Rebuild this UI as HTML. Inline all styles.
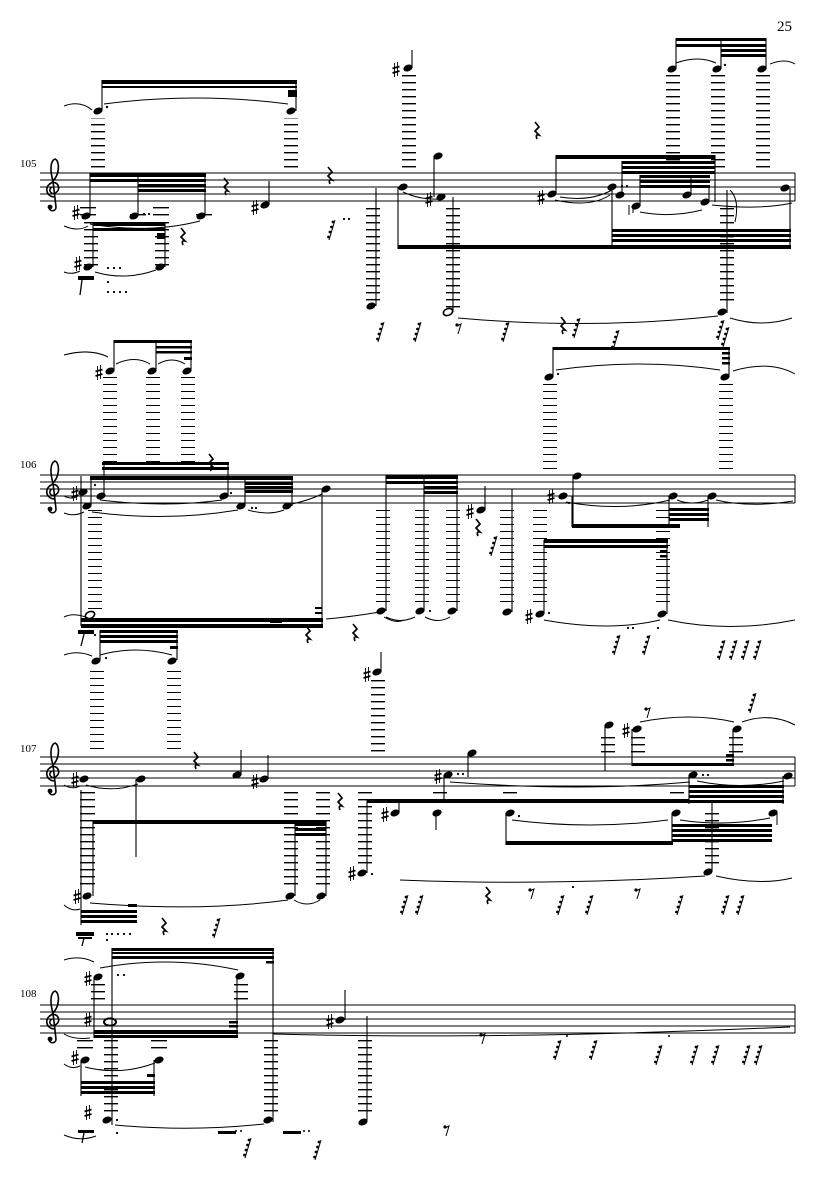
<!DOCTYPE html>
<html><head><meta charset="utf-8">
<style>
html,body{margin:0;padding:0;background:#fff;}
svg{display:block;}
text{font-family:"Liberation Serif",serif;fill:#000;}
</style></head>
<body>
<svg width="835" height="1181" viewBox="0 0 835 1181" xmlns="http://www.w3.org/2000/svg">
<defs>
<pattern id="L1" width="1000" height="7" patternUnits="userSpaceOnUse"><rect x="0" y="5" width="1000" height="1.4" fill="#000"/></pattern>
<pattern id="L2" width="1000" height="7" patternUnits="userSpaceOnUse"><rect x="0" y="6" width="1000" height="1.4" fill="#000"/></pattern>
<pattern id="L3" width="1000" height="7" patternUnits="userSpaceOnUse"><rect x="0" y="1" width="1000" height="1.4" fill="#000"/></pattern>
<pattern id="L4" width="1000" height="7" patternUnits="userSpaceOnUse"><rect x="0" y="4" width="1000" height="1.4" fill="#000"/></pattern>
<symbol id="n" overflow="visible"><ellipse cx="0" cy="0" rx="4.8" ry="3.3" transform="rotate(-22)" fill="#000"/></symbol>
<symbol id="h" overflow="visible"><ellipse cx="0" cy="0" rx="4.8" ry="3.3" transform="rotate(-22)" fill="none" stroke="#000" stroke-width="1.6"/></symbol>
<symbol id="s" overflow="visible"><path d="M-1.5,-7V7M1.5,-8V6" stroke="#000" stroke-width="0.9"/><path d="M-3.5,-1.5L3.5,-3.5M-3.5,3L3.5,1" stroke="#000" stroke-width="1.8"/></symbol>
<symbol id="q" overflow="visible"><path d="M-2,-8L2,-3L-2,1L2,5Q-2,4 0,9" fill="none" stroke="#000" stroke-width="1.7"/></symbol>
<symbol id="r" overflow="visible"><path d="M3,-10L-3,10" stroke="#000" stroke-width="1"/><circle cx="1" cy="-8" r="1.4"/><circle cx="-0.5" cy="-3" r="1.4"/><circle cx="-2" cy="2" r="1.4"/><circle cx="-3.5" cy="7" r="1.4"/></symbol>
<symbol id="e" overflow="visible"><circle cx="-1" cy="-3" r="1.6"/><path d="M-1,-2L3,-4L0,6" fill="none" stroke="#000" stroke-width="1"/></symbol>
<symbol id="c" overflow="visible"><path d="M3,12 C-6,12 -8,2 -1,-2 C6,-5 10,5 3,8 C-2,10 -4,4 0,2 M0,-3 C8,-10 8,-24 3,-26 C-2,-24 -2,-14 1,-4 L4,22 C4,27 -3,27 -3,22" fill="none" stroke="#000" stroke-width="1.6"/><circle cx="-2" cy="22" r="2.4"/></symbol>
</defs>

<text x="777" y="31" font-size="15">25</text>

<!-- ================= SYSTEM 1 ================= -->
<text x="20" y="167" font-size="11">105</text>
<g stroke="#000" stroke-width="1">
<path d="M40,173H795M40,180H795M40,187H795M40,194H795M40,201H795"/>
<path d="M795,173V201"/>
</g>
<use href="#c" x="52" y="185"/>
<!-- top-left group -->
<rect x="91" y="118" width="14" height="50" fill="url(#L1)"/>
<rect x="284" y="118" width="14" height="50" fill="url(#L1)"/>
<use href="#n" x="98" y="111"/><use href="#n" x="291" y="111"/>
<path d="M102,111V80M296,111V80" stroke="#000" stroke-width="1.1"/>
<rect x="102" y="80" width="195" height="4"/><rect x="102" y="86" width="195" height="2"/>
<rect x="288" y="90" width="9" height="7"/>
<path d="M104,104Q195,92 288,104M64,106Q80,100 92,110" fill="none" stroke="#000"/>
<circle cx="107" cy="107" r="1.2"/>
<!-- sharp top note -->
<rect x="402" y="75" width="14" height="93" fill="url(#L1)"/>
<use href="#n" x="408" y="68"/><use href="#s" x="396" y="70"/>
<path d="M412,68V50" stroke="#000" stroke-width="1.1"/>
<!-- top right group -->
<rect x="666" y="75" width="14" height="93" fill="url(#L1)"/>
<rect x="711" y="75" width="14" height="93" fill="url(#L1)"/>
<rect x="756" y="75" width="14" height="93" fill="url(#L1)"/>
<use href="#n" x="672" y="69"/><use href="#n" x="717" y="69"/><use href="#n" x="762" y="69"/>
<path d="M676,69V38M721,69V38M766,69V38" stroke="#000" stroke-width="1.1"/>
<rect x="676" y="38" width="90" height="3"/><rect x="676" y="44" width="90" height="3"/><rect x="721" y="49" width="45" height="3"/><rect x="721" y="54" width="45" height="3"/>
<path d="M676,63Q698,55 716,63M770,64Q785,58 795,64" fill="none" stroke="#000"/>
<circle cx="725" cy="65" r="1.2"/>
<!-- staff left beams -->
<rect x="80" y="207" width="16" height="1.4"/><rect x="80" y="214" width="16" height="1.4"/>
<rect x="130" y="214" width="16" height="1.4"/><rect x="196" y="214" width="16" height="1.4"/><rect x="153" y="207" width="16" height="1.4"/><rect x="153" y="214" width="16" height="1.4"/>
<use href="#n" x="86" y="216"/><use href="#n" x="134" y="216"/><use href="#n" x="201" y="216"/>
<use href="#s" x="76" y="213"/>
<path d="M90,216V173M138,216V173M205,216V173" stroke="#000" stroke-width="1.1"/>
<rect x="90" y="173" width="116" height="4"/><rect x="90" y="179" width="49" height="3"/>
<rect x="138" y="179" width="68" height="3"/><rect x="138" y="184" width="68" height="3"/><rect x="138" y="189" width="68" height="3"/>
<circle cx="144" cy="214" r="1.1"/><circle cx="149" cy="214" r="1.1"/>
<path d="M90,224Q150,234 200,221M64,226Q78,232 88,226" fill="none" stroke="#000"/>
<!-- lower left -->
<rect x="84" y="222" width="14" height="44" fill="url(#L1)"/>
<rect x="155" y="222" width="14" height="44" fill="url(#L1)"/>
<use href="#n" x="88" y="267"/><use href="#n" x="160" y="267"/><use href="#s" x="78" y="264"/>
<path d="M93,267V222M165,267V222" stroke="#000" stroke-width="1.1"/>
<rect x="93" y="222" width="72" height="4"/><rect x="93" y="228" width="72" height="3"/>
<rect x="157" y="233" width="8" height="6"/>
<path d="M95,272Q125,281 156,270M64,272Q72,275 80,271" fill="none" stroke="#000"/>
<rect x="78" y="276" width="16" height="4"/><path d="M82,280L80,295" stroke="#000" stroke-width="1.3"/>
<g fill="#000"><circle cx="108" cy="268" r="1.1"/><circle cx="114" cy="268" r="1.1"/><circle cx="120" cy="268" r="1.1"/><circle cx="108" cy="282" r="1.1"/><circle cx="108" cy="292" r="1.1"/><circle cx="114" cy="292" r="1.1"/><circle cx="120" cy="292" r="1.1"/><circle cx="126" cy="292" r="1.1"/></g>
<use href="#q" x="183" y="236"/><use href="#q" x="226" y="186"/>
<use href="#n" x="265" y="205"/><use href="#s" x="255" y="208"/>
<path d="M269,205V181" stroke="#000" stroke-width="1.1"/>
<use href="#q" x="330" y="175"/><use href="#r" x="332" y="230"/><circle cx="344" cy="219" r="1.1"/><circle cx="349" cy="219" r="1.1"/>
<!-- long down note -->
<rect x="366" y="208" width="14" height="96" fill="url(#L1)"/>
<use href="#n" x="371" y="306"/>
<path d="M376,306V188" stroke="#000" stroke-width="1.1"/>
<!-- middle B note and big beam -->
<use href="#n" x="403" y="187"/>
<path d="M398,187V249" stroke="#000" stroke-width="1.1"/>
<rect x="398" y="245" width="393" height="4"/>
<!-- F# and half note -->
<use href="#n" x="438" y="156"/><use href="#n" x="441" y="197"/><use href="#s" x="429" y="200"/>
<path d="M434,156V197M453,197V312" stroke="#000" stroke-width="1.1"/>
<rect x="446" y="208" width="14" height="100" fill="url(#L1)"/>
<use href="#h" x="448" y="312"/>
<path d="M403,192Q420,200 440,199" fill="none" stroke="#000"/>
<use href="#q" x="537" y="130"/>
<use href="#n" x="552" y="194"/><use href="#s" x="541" y="198"/>
<path d="M556,194V155" stroke="#000" stroke-width="1.1"/>
<rect x="556" y="155" width="159" height="4"/>
<rect x="622" y="161" width="93" height="3"/><rect x="622" y="166" width="93" height="3"/><rect x="622" y="171" width="93" height="3"/>
<rect x="640" y="175" width="70" height="3"/><rect x="640" y="180" width="70" height="3"/><rect x="640" y="185" width="70" height="3"/>
<use href="#n" x="612" y="187"/><use href="#n" x="620" y="195"/><use href="#n" x="636" y="206"/><use href="#n" x="687" y="195"/><use href="#n" x="705" y="202"/>
<path d="M612,187V249M622,195V161M640,206V175M691,195V175M709,202V185M715,202V155" stroke="#000" stroke-width="1.1"/>
<path d="M629,205V215M633,205V213" stroke="#000"/>
<circle cx="622" cy="186" r="1.1"/><circle cx="627" cy="186" r="1.1"/>
<rect x="612" y="229" width="179" height="3"/><rect x="612" y="234" width="179" height="3"/><rect x="612" y="239" width="179" height="3"/>
<path d="M555,200Q590,208 610,195M640,212Q670,218 702,210M560,197Q590,202 612,190" fill="none" stroke="#000"/>
<use href="#n" x="785" y="188"/>
<path d="M790,188V249M727,190V313" stroke="#000" stroke-width="1.1"/>
<path d="M730,190Q740,200 735,222" fill="none" stroke="#000"/>
<rect x="720" y="208" width="14" height="98" fill="url(#L1)"/>
<use href="#n" x="722" y="312"/>
<path d="M458,318Q590,330 718,316M730,318Q762,328 792,318M712,205Q760,210 792,203" fill="none" stroke="#000"/>
<!-- rests row -->
<use href="#r" x="381" y="332"/><use href="#r" x="418" y="332"/><use href="#e" x="458" y="328"/><use href="#r" x="506" y="332"/><use href="#q" x="563" y="325"/><use href="#r" x="577" y="328"/><use href="#r" x="721" y="330"/>

<!-- ================= SYSTEM 2 ================= -->
<text x="20" y="468" font-size="11">106</text>
<g stroke="#000" stroke-width="1">
<path d="M40,475H795M40,482H795M40,489H795M40,496H795M40,503H795"/>
<path d="M795,475V503"/>
</g>
<use href="#c" x="52" y="487"/>
<!-- above group -->
<rect x="103" y="376" width="14" height="92" fill="url(#L2)"/>
<rect x="146" y="376" width="14" height="92" fill="url(#L2)"/>
<rect x="181" y="376" width="14" height="92" fill="url(#L2)"/>
<use href="#n" x="110" y="371"/><use href="#n" x="152" y="371"/><use href="#n" x="187" y="371"/><use href="#s" x="99" y="373"/>
<path d="M114,371V340M156,371V340M191,371V340" stroke="#000" stroke-width="1.1"/>
<rect x="114" y="340" width="78" height="3"/><rect x="156" y="346" width="36" height="2.5"/><rect x="156" y="351" width="36" height="2.5"/><rect x="184" y="357" width="8" height="3"/>
<path d="M64,355Q90,348 108,357M116,364Q135,355 150,364M158,364Q172,356 185,364" fill="none" stroke="#000"/>
<!-- staff content -->
<rect x="102" y="462" width="127" height="3"/><rect x="102" y="467" width="127" height="3"/>
<path d="M104,496V462M228,496V462" stroke="#000" stroke-width="1.1"/>
<rect x="90" y="476" width="203" height="4"/><rect x="245" y="482" width="48" height="3"/><rect x="245" y="486" width="48" height="3"/><rect x="245" y="490" width="48" height="3"/>
<use href="#q" x="211" y="462"/>
<use href="#n" x="83" y="492"/><use href="#n" x="87" y="506"/><use href="#n" x="101" y="496"/><use href="#n" x="224" y="496"/><use href="#n" x="241" y="506"/><use href="#n" x="287" y="506"/><use href="#n" x="326" y="489"/>
<use href="#s" x="75" y="494"/>
<path d="M91,476V506M245,506V476M292,506V476M322,489V626M81,476V626" stroke="#000" stroke-width="1.1"/>
<circle cx="95" cy="485" r="1.1"/><circle cx="231" cy="493" r="1.1"/><circle cx="252" cy="508" r="1.1"/><circle cx="256" cy="508" r="1.1"/>
<path d="M100,500Q165,508 222,500M92,512Q165,522 238,510M248,510Q268,516 284,510M292,504Q310,500 322,494M64,496Q72,500 78,496M64,513Q74,517 84,512" fill="none" stroke="#000"/>
<rect x="88" y="510" width="14" height="102" fill="url(#L2)"/>
<use href="#h" x="90" y="615"/>
<rect x="81" y="618" width="242" height="4"/><rect x="81" y="624" width="242" height="4"/>
<rect x="270" y="620" width="12" height="3" fill="#000"/><rect x="315" y="607" width="7" height="2"/><rect x="315" y="612" width="7" height="2"/>
<path d="M64,617Q74,612 88,618M326,619Q350,617 380,612" fill="none" stroke="#000"/>
<use href="#q" x="308" y="634"/><use href="#q" x="355" y="632"/>
<!-- below left -->
<rect x="78" y="630" width="16" height="4"/><path d="M84,634L81,646" stroke="#000" stroke-width="1.3"/><circle cx="95" cy="635" r="1.1"/>
<rect x="100" y="630" width="78" height="3"/><rect x="100" y="635" width="78" height="3"/><rect x="100" y="640" width="78" height="3"/><rect x="170" y="646" width="8" height="3"/>
<path d="M100,660V630M177,660V630" stroke="#000" stroke-width="1.1"/>
<rect x="90" y="667" width="14" height="84" fill="url(#L2)"/>
<rect x="167" y="667" width="14" height="84" fill="url(#L2)"/>
<use href="#n" x="96" y="661"/><use href="#n" x="172" y="661"/>
<circle cx="106" cy="658" r="1.1"/>
<path d="M100,655Q135,645 172,655M64,655Q78,650 92,656" fill="none" stroke="#000"/>
<!-- middle notes -->
<rect x="376" y="510" width="14" height="96" fill="url(#L2)"/>
<rect x="415" y="510" width="14" height="96" fill="url(#L2)"/>
<rect x="446" y="510" width="14" height="96" fill="url(#L2)"/>
<use href="#n" x="381" y="611"/><use href="#n" x="420" y="611"/><use href="#n" x="452" y="611"/>
<path d="M386,611V475M424,611V475M457,611V475" stroke="#000" stroke-width="1.1"/>
<rect x="386" y="475" width="72" height="4"/><rect x="386" y="481" width="38" height="3"/><rect x="424" y="481" width="34" height="3"/><rect x="424" y="486" width="34" height="3"/><rect x="424" y="491" width="34" height="3"/>
<circle cx="430" cy="611" r="1.1"/>
<path d="M386,617Q400,624 415,617M425,617Q438,624 450,617M384,617Q396,624 404,620" fill="none" stroke="#000"/>
<use href="#n" x="481" y="510"/><use href="#s" x="470" y="512"/>
<path d="M485,510V486" stroke="#000" stroke-width="1.1"/>
<use href="#q" x="478" y="527"/><use href="#r" x="494" y="546"/>
<rect x="500" y="510" width="14" height="96" fill="url(#L2)"/>
<use href="#n" x="507" y="612"/>
<path d="M512,612V489" stroke="#000" stroke-width="1.1"/>
<rect x="533" y="510" width="14" height="96" fill="url(#L2)"/>
<rect x="656" y="510" width="14" height="96" fill="url(#L2)"/>
<use href="#n" x="540" y="614"/><use href="#s" x="529" y="617"/><use href="#n" x="662" y="614"/>
<path d="M544,614V540M667,614V540" stroke="#000" stroke-width="1.1"/>
<rect x="544" y="539" width="124" height="4"/><rect x="544" y="545" width="124" height="3"/><rect x="660" y="550" width="7" height="2.5"/><rect x="660" y="555" width="7" height="2.5"/>
<circle cx="549" cy="613" r="1.1"/>
<path d="M544,620Q610,632 660,620M668,620Q730,633 795,620" fill="none" stroke="#000"/>
<use href="#n" x="563" y="496"/><use href="#s" x="551" y="497"/><use href="#n" x="577" y="476"/>
<path d="M573,476V527M572,496V527" stroke="#000" stroke-width="1.1"/>
<circle cx="569" cy="503" r="1.1"/>
<rect x="572" y="524" width="108" height="4"/>
<use href="#n" x="673" y="496"/><use href="#n" x="712" y="496"/>
<path d="M669,496V527M708,496V527" stroke="#000" stroke-width="1.1"/>
<rect x="669" y="508" width="40" height="3"/><rect x="669" y="513" width="40" height="3"/><rect x="669" y="518" width="40" height="3"/>
<path d="M566,502Q620,512 670,500M677,500Q692,506 708,500M716,500Q750,508 793,501" fill="none" stroke="#000"/>
<rect x="543" y="383" width="14" height="88" fill="url(#L2)"/>
<rect x="719" y="383" width="14" height="88" fill="url(#L2)"/>
<use href="#n" x="549" y="377"/><use href="#n" x="725" y="377"/>
<path d="M553,377V347M729,377V347" stroke="#000" stroke-width="1.1"/>
<rect x="553" y="347" width="177" height="3"/><rect x="722" y="352" width="8" height="2.5"/><rect x="722" y="357" width="8" height="2.5"/><rect x="722" y="362" width="8" height="2.5"/>
<circle cx="558" cy="374" r="1.1"/>
<path d="M556,370Q640,358 720,370M733,371Q770,360 795,374" fill="none" stroke="#000"/>
<use href="#r" x="616" y="340"/><use href="#r" x="726" y="337"/>
<use href="#r" x="617" y="645"/><use href="#r" x="647" y="645"/><circle cx="628" cy="628" r="1.1"/><circle cx="633" cy="628" r="1.1"/><circle cx="658" cy="628" r="1.1"/>
<use href="#r" x="722" y="650"/><use href="#r" x="734" y="650"/><use href="#r" x="746" y="650"/><use href="#r" x="758" y="650"/>
<!-- ================= SYSTEM 3 ================= -->
<rect x="371" y="680" width="14" height="72" fill="url(#L3)"/>
<use href="#n" x="377" y="672"/><use href="#s" x="367" y="675"/>
<path d="M381,672V652" stroke="#000" stroke-width="1.1"/>
<text x="20" y="752" font-size="11">107</text>
<g stroke="#000" stroke-width="1">
<path d="M40,757H795M40,764H795M40,771H795M40,778H795M40,786H795"/>
<path d="M795,757V786"/>
</g>
<use href="#c" x="52" y="769"/>
<use href="#q" x="196" y="760"/>
<use href="#n" x="84" y="779"/><use href="#s" x="75" y="780"/><use href="#n" x="141" y="779"/>
<path d="M136,779V857" stroke="#000" stroke-width="1.1"/>
<path d="M86,785Q112,793 138,784M64,785Q72,790 80,786" fill="none" stroke="#000"/>
<use href="#n" x="237" y="775"/><use href="#n" x="264" y="779"/><use href="#s" x="255" y="782"/>
<path d="M241,775V750M268,779V755" stroke="#000" stroke-width="1.1"/>
<rect x="80" y="790" width="15" height="100" fill="url(#L3)"/>
<path d="M81,790V925" stroke="#000" stroke-width="1.1"/>
<use href="#n" x="87" y="896"/><use href="#s" x="77" y="897"/>
<rect x="93" y="820" width="233" height="4"/>
<rect x="284" y="790" width="14" height="100" fill="url(#L3)"/>
<rect x="316" y="790" width="14" height="100" fill="url(#L3)"/>
<use href="#n" x="290" y="896"/><use href="#n" x="321" y="896"/>
<path d="M295,896V821M326,896V821M93,820V896" stroke="#000" stroke-width="1.1"/>
<rect x="295" y="823" width="31" height="3"/><rect x="295" y="828" width="31" height="3"/><rect x="295" y="833" width="31" height="3"/>
<rect x="81" y="910" width="56" height="3"/><rect x="81" y="915" width="56" height="3"/><rect x="81" y="920" width="56" height="3"/><rect x="128" y="904" width="9" height="3"/>
<path d="M90,903Q200,912 288,900M294,900Q307,908 320,900M64,905Q72,912 80,909" fill="none" stroke="#000"/>
<rect x="76" y="932" width="18" height="4"/><rect x="78" y="937" width="14" height="2"/><path d="M84,938L82,946" stroke="#000" stroke-width="1.3"/>
<g><circle cx="107" cy="934" r="1.1"/><circle cx="112" cy="934" r="1.1"/><circle cx="118" cy="934" r="1.1"/><circle cx="124" cy="934" r="1.1"/><circle cx="130" cy="934" r="1.1"/><circle cx="107" cy="940" r="1.1"/></g>
<use href="#q" x="164" y="926"/><use href="#r" x="217" y="928"/>
<rect x="358" y="792" width="14" height="76" fill="url(#L3)"/>
<use href="#n" x="362" y="873"/><use href="#s" x="352" y="874"/>
<path d="M367,873V800" stroke="#000" stroke-width="1.1"/>
<circle cx="372" cy="874" r="1.1"/>
<rect x="367" y="799" width="322" height="4"/>
<use href="#q" x="340" y="801"/>
<use href="#n" x="395" y="813"/><use href="#s" x="385" y="815"/>
<path d="M399,813V800" stroke="#000" stroke-width="1.1"/>
<!-- zoom10 region -->
<use href="#n" x="448" y="775"/><use href="#s" x="438" y="777"/><use href="#n" x="472" y="753"/>
<path d="M444,775V801M468,753V777" stroke="#000" stroke-width="1.1"/>
<circle cx="458" cy="774" r="1.1"/><circle cx="463" cy="774" r="1.1"/>
<rect x="433" y="792" width="14" height="1.4"/><rect x="503" y="792" width="14" height="1.4"/><rect x="670" y="792" width="14" height="1.4"/>
<use href="#n" x="437" y="813"/>
<path d="M436,813V830" stroke="#000" stroke-width="1.1"/>
<use href="#n" x="510" y="813"/><use href="#n" x="676" y="813"/>
<circle cx="519" cy="816" r="1.1"/>
<path d="M506,813V845M672,813V845" stroke="#000" stroke-width="1.1"/>
<rect x="506" y="841" width="167" height="4"/>
<rect x="672" y="824" width="100" height="3"/><rect x="672" y="829" width="100" height="3"/><rect x="672" y="834" width="100" height="3"/><rect x="672" y="839" width="100" height="3"/>
<path d="M512,820Q590,830 668,820M680,820Q725,827 770,818" fill="none" stroke="#000"/>
<use href="#n" x="773" y="813"/><path d="M777,813V825" stroke="#000"/>
<rect x="705" y="810" width="14" height="56" fill="url(#L3)"/>
<use href="#n" x="708" y="872"/>
<path d="M712,872V800" stroke="#000" stroke-width="1.1"/>
<use href="#n" x="693" y="775"/><use href="#n" x="788" y="776"/>
<circle cx="703" cy="775" r="1.1"/><circle cx="708" cy="775" r="1.1"/>
<path d="M689,775V804M783,776V804" stroke="#000" stroke-width="1.1"/>
<rect x="689" y="785" width="95" height="3"/><rect x="689" y="790" width="95" height="3"/><rect x="689" y="795" width="95" height="3"/><rect x="689" y="800" width="95" height="3"/>
<path d="M450,782Q580,792 690,782M697,781Q740,790 784,781" fill="none" stroke="#000"/>
<rect x="601" y="737" width="14" height="1.4"/><rect x="601" y="744" width="14" height="1.4"/><rect x="601" y="751" width="14" height="1.4"/>
<rect x="631" y="737" width="14" height="1.4"/><rect x="631" y="744" width="14" height="1.4"/><rect x="631" y="751" width="14" height="1.4"/>
<rect x="729" y="737" width="14" height="1.4"/><rect x="729" y="744" width="14" height="1.4"/><rect x="729" y="751" width="14" height="1.4"/>
<use href="#n" x="609" y="725"/><use href="#n" x="637" y="729"/><use href="#s" x="626" y="731"/><use href="#n" x="737" y="729"/>
<path d="M605,725V771M632,729V766M733,729V766" stroke="#000" stroke-width="1.1"/>
<rect x="632" y="763" width="102" height="3"/><rect x="726" y="754" width="8" height="2.5"/><rect x="726" y="759" width="8" height="2.5"/>
<path d="M640,722Q690,712 734,722M742,722Q770,712 795,725" fill="none" stroke="#000"/>
<use href="#e" x="647" y="712"/><use href="#r" x="753" y="703"/>
<path d="M400,880Q550,886 705,876M716,876Q760,886 792,878" fill="none" stroke="#000"/>
<use href="#r" x="405" y="905"/><use href="#r" x="420" y="905"/><use href="#q" x="488" y="895"/><use href="#e" x="531" y="893"/>
<use href="#r" x="561" y="905"/><circle cx="573" cy="887" r="1.1"/><use href="#r" x="590" y="905"/><use href="#e" x="637" y="893"/>
<use href="#r" x="680" y="905"/><use href="#r" x="726" y="905"/><use href="#r" x="741" y="905"/>

<!-- ================= SYSTEM 4 ================= -->
<text x="20" y="997" font-size="11">108</text>
<g stroke="#000" stroke-width="1">
<path d="M40,1005H795M40,1012H795M40,1019H795M40,1026H795M40,1033H795"/>
<path d="M795,1005V1033"/>
</g>
<use href="#c" x="52" y="1017"/>
<rect x="91" y="984" width="14" height="18" fill="url(#L4)"/>
<rect x="234" y="984" width="14" height="18" fill="url(#L4)"/>
<use href="#n" x="98" y="977"/><use href="#s" x="88" y="979"/><use href="#n" x="240" y="976"/>
<path d="M94,977V1038M237,976V1038" stroke="#000" stroke-width="1.1"/>
<rect x="94" y="1030" width="144" height="4"/><rect x="94" y="1035" width="144" height="3"/><rect x="229" y="1021" width="9" height="2.5"/><rect x="229" y="1025" width="9" height="2.5"/>
<rect x="112" y="948" width="162" height="3"/><rect x="112" y="952" width="162" height="2"/><rect x="112" y="956" width="162" height="3"/><rect x="266" y="961" width="8" height="2.5"/>
<path d="M112,948V1125M273,948V1122" stroke="#000" stroke-width="1.1"/>
<circle cx="118" cy="975" r="1.1"/><circle cx="124" cy="975" r="1.1"/>
<path d="M100,968Q170,955 238,970M64,960Q80,955 94,962M64,1034Q74,1040 90,1038" fill="none" stroke="#000"/>
<ellipse cx="110" cy="1022" rx="6" ry="3.6" fill="none" stroke="#000" stroke-width="2"/><use href="#s" x="88" y="1020"/>
<rect x="104" y="1040" width="14" height="76" fill="url(#L4)"/>
<rect x="264" y="1040" width="14" height="76" fill="url(#L4)"/>
<rect x="77" y="1040" width="16" height="1.4"/><rect x="77" y="1047" width="16" height="1.4"/><rect x="151" y="1040" width="16" height="1.4"/><rect x="151" y="1047" width="16" height="1.4"/>
<use href="#n" x="85" y="1060"/><use href="#s" x="75" y="1058"/><use href="#n" x="159" y="1060"/>
<path d="M81,1060V1096M154,1060V1096" stroke="#000" stroke-width="1.1"/>
<rect x="81" y="1081" width="74" height="3"/><rect x="81" y="1086" width="74" height="3"/><rect x="81" y="1091" width="74" height="3"/><rect x="147" y="1074" width="8" height="3"/>
<path d="M85,1067Q120,1076 155,1063M64,1064Q72,1070 80,1066" fill="none" stroke="#000"/>
<use href="#n" x="107" y="1120"/><use href="#n" x="268" y="1120"/><use href="#s" x="88" y="1113"/>
<circle cx="117" cy="1120" r="1.1"/><circle cx="117" cy="1133" r="1.1"/>
<rect x="78" y="1130" width="16" height="3"/><path d="M84,1133L82,1143" stroke="#000" stroke-width="1.3"/>
<path d="M115,1125Q190,1132 264,1124M64,1135Q80,1142 96,1136" fill="none" stroke="#000"/>
<rect x="218" y="1131" width="18" height="3"/><circle cx="236" cy="1131" r="1"/><circle cx="241" cy="1131" r="1"/>
<use href="#r" x="248" y="1148"/>
<rect x="283" y="1131" width="18" height="3"/><circle cx="304" cy="1131" r="1"/><circle cx="309" cy="1131" r="1"/>
<use href="#r" x="318" y="1150"/>
<use href="#n" x="340" y="1020"/><use href="#s" x="330" y="1022"/>
<path d="M345,1020V990M367,1016V1120" stroke="#000" stroke-width="1.1"/>
<rect x="358" y="1040" width="14" height="76" fill="url(#L4)"/>
<use href="#n" x="363" y="1122"/>
<path d="M273,1034Q500,1040 790,1027" fill="none" stroke="#000"/>
<use href="#e" x="482" y="1038"/><use href="#e" x="446" y="1130"/>
<use href="#r" x="558" y="1050"/><circle cx="567" cy="1036" r="1"/><use href="#r" x="594" y="1050"/>
<use href="#r" x="659" y="1055"/><circle cx="669" cy="1036" r="1"/><use href="#r" x="695" y="1055"/><use href="#r" x="716" y="1055"/><use href="#r" x="747" y="1055"/><use href="#r" x="759" y="1055"/>
</svg>
</body></html>
